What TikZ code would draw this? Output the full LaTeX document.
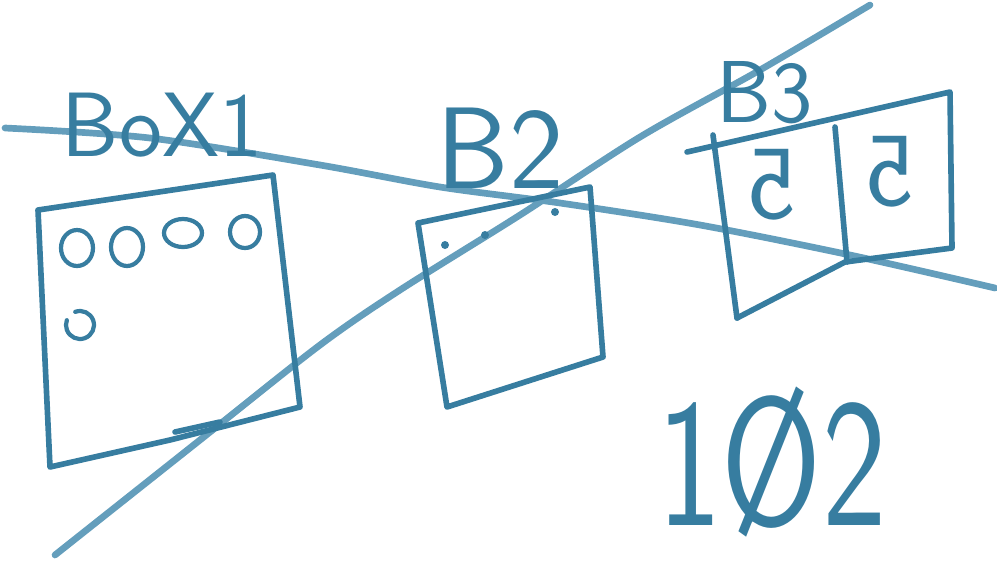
\documentclass[tikz,border=0pt]{standalone}
\usepackage{tikz}
\usepackage{graphicx}
\definecolor{crayon}{RGB}{55,125,160}
\definecolor{crayonlight}{RGB}{100,158,188}
\tikzset{
  sketch/.style={draw=crayon, line width=1.6pt, line join=round, line cap=round},
  thread/.style={draw=crayonlight, line width=1.9pt, line cap=round},
  hand/.style={text=crayon, inner sep=0pt, font=\sffamily\fontsize{#1}{#1}\selectfont},
}

\begin{document}
\begin{tikzpicture}[x=0.01cm,y=-0.01cm]
  \useasboundingbox (0,0) rectangle (997,572);
  % the two long lines
  \draw[thread] plot[smooth] coordinates {(5,128) (150,138) (320,165) (440,187) (560,203) (700,225) (850,255) (995,288)};
  \draw[thread] plot[smooth] coordinates {(55,555) (200,440) (320,345) (400,290) (520,215) (640,137) (760,70) (870,5)};
  % box 1
  \draw[sketch] (38,210) -- (273,175) -- (300,407) -- (170,440) -- (50,467) -- cycle;
  \draw[sketch] (175,432) -- (220,422);
  \foreach \x/\y/\rx/\ry in {77/248/16/18, 127/247/16/19, 183/233/19/14, 245/232/15/16}
    \draw[sketch, line width=1.2pt] (\x,\y) ellipse [x radius=\rx, y radius=\ry];
  \draw[sketch, line width=1.2pt] (80,325) ++(250:14) arc [start angle=250, end angle=560, radius=14];
  \node[hand=26] (boxA) at (162,125) {BoX1};
  % box 2
  \draw[sketch] (418,223) -- (590,187) -- (603,357) -- (447,407) -- cycle;
  \foreach \x/\y in {445/245, 485/235, 555/212}
    \fill[crayon] (\x,\y) circle (4);
  \node[hand=33] (boxB) at (500,148) {B2};
  % box 3
  \draw[sketch] (713,135) -- (737,318);
  \draw[sketch] (687,152) -- (950,92) -- (952,248) -- (845,262) -- (737,318);
  \draw[sketch] (835,127) -- (847,262);
  \node[hand=25] (boxC) at (765,93) {B3};
  \node[hand=30] (fiveA) at (772,185) {\scalebox{-1}[1]{5}};
  \node[hand=30] (fiveB) at (890,172) {\scalebox{-1}[1]{5}};
  % number
  \node[hand=52] (num) at (772,462) {\scalebox{0.75}[1]{1Ø2}};
\end{tikzpicture}
\end{document}
